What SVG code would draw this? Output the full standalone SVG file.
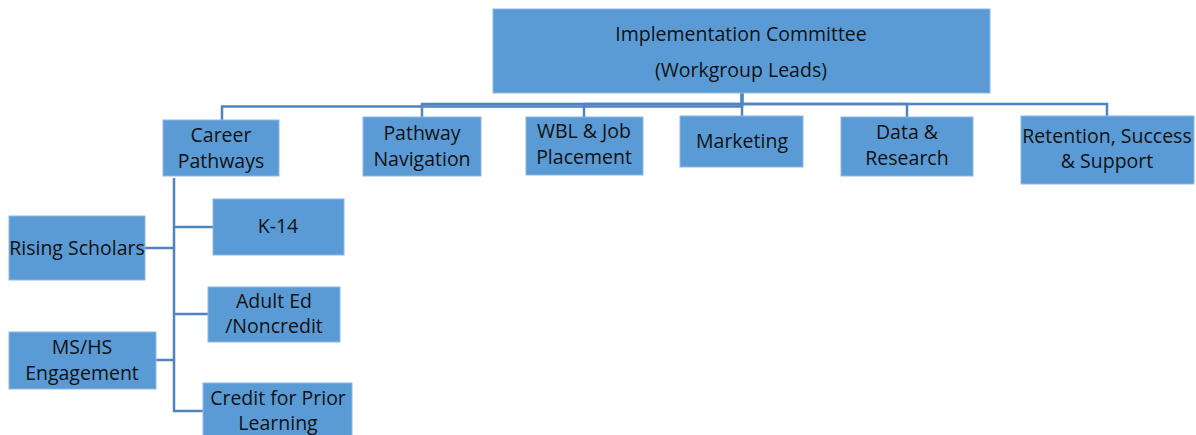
<svg xmlns="http://www.w3.org/2000/svg" width="1196" height="435" viewBox="0 0 1196 435">
<style>
.box{fill:#5b9bd5;stroke:#8db8e3;stroke-width:1}
.t{font-family:"Open Sans","Noto Sans",sans-serif;font-size:19.5px;fill:#111;text-anchor:middle}
.c{fill:none;stroke:#4f84bf;stroke-width:2.5}
</style>
<rect width="1196" height="435" fill="#fff"/>
<g id="connectors">
<path class="c" d="M742,93 V106.5 H222 V120"/>
<path class="c" d="M742,93 V104 H422 V117"/>
<path class="c" d="M742,93 V104 H584 V117"/>
<path class="c" d="M742,93 V116"/>
<path class="c" d="M742,93 V104 H907 V117"/>
<path class="c" d="M742,93 V104 H1107 V116"/>
<path class="c" d="M174,178 V411 H203"/>
<path class="c" d="M174,227 H213"/>
<path class="c" d="M145,248 H174"/>
<path class="c" d="M174,314 H208"/>
<path class="c" d="M156,360 H174"/>
</g>
<g id="implementation-committee">
<rect class="box" x="493" y="9" width="497" height="84"/>
<text class="t" x="741" y="41">Implementation Committee<tspan x="741" dy="36">(Workgroup Leads)</tspan></text>
</g>
<g id="career-pathways">
<rect class="box" x="163" y="120" width="116" height="56"/>
<text class="t" x="221" y="142">Career<tspan x="221" dy="25.5">Pathways</tspan></text>
</g>
<g id="pathway-navigation">
<rect class="box" x="363" y="117" width="118" height="59"/>
<text class="t" x="422" y="140">Pathway<tspan x="422" dy="26">Navigation</tspan></text>
</g>
<g id="wbl-job-placement">
<rect class="box" x="526" y="117" width="117" height="58"/>
<text class="t" x="584" y="138">WBL &amp; Job<tspan x="584" dy="26">Placement</tspan></text>
</g>
<g id="marketing">
<rect class="box" x="680" y="116" width="123" height="51"/>
<text class="t" x="742" y="148">Marketing</text>
</g>
<g id="data-research">
<rect class="box" x="841" y="117" width="132" height="59"/>
<text class="t" x="907" y="139">Data &amp;<tspan x="907" dy="26">Research</tspan></text>
</g>
<g id="retention-success-support">
<rect class="box" x="1021" y="116" width="173" height="68"/>
<text class="t" x="1107" y="143">Retention, Success<tspan x="1107" dy="25">&amp; Support</tspan></text>
</g>
<g id="k-14">
<rect class="box" x="213" y="199" width="131" height="56"/>
<text class="t" x="278" y="233">K-14</text>
</g>
<g id="rising-scholars">
<rect class="box" x="9" y="216" width="136" height="64"/>
<text class="t" x="77" y="255">Rising Scholars</text>
</g>
<g id="adult-ed-noncredit">
<rect class="box" x="208" y="287" width="132" height="55"/>
<text class="t" x="274" y="308">Adult Ed<tspan x="274" dy="25">/Noncredit</tspan></text>
</g>
<g id="ms-hs-engagement">
<rect class="box" x="9" y="332" width="147" height="57"/>
<text class="t" x="82" y="354">MS/HS<tspan x="82" dy="25.5">Engagement</tspan></text>
</g>
<g id="credit-prior-learning">
<rect class="box" x="203" y="383" width="149" height="60"/>
<text class="t" x="278" y="405">Credit for Prior<tspan x="278" dy="25">Learning</tspan></text>
</g>
</svg>
